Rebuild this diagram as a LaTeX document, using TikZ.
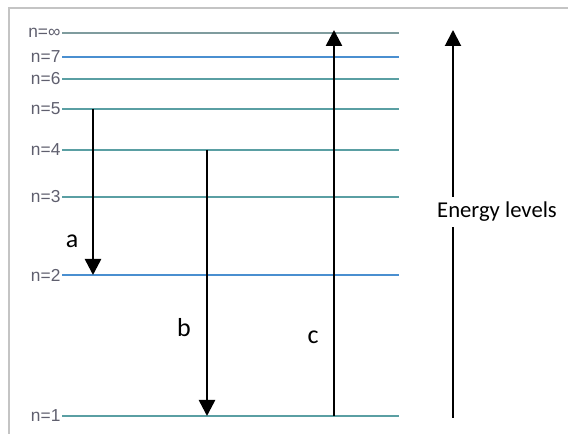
\documentclass[tikz,border=0pt]{standalone}
\usepackage{fontspec}
\setmainfont{Carlito}
\newfontfamily\lvfont{Liberation Sans}
\usetikzlibrary{arrows.meta}
\definecolor{lvteal}{HTML}{5a9fa3}
\definecolor{lvblue}{HTML}{4a8fd0}
\definecolor{lvgrey}{HTML}{7f9c9e}
\definecolor{labgrey}{HTML}{5f5f6e}
\definecolor{framegrey}{HTML}{c4c4c4}

\begin{document}
\begin{tikzpicture}[x=0.75pt,y=-0.75pt,
  lvline/.style={line width=1.9pt},
  lvlab/.style={anchor=east,inner sep=1pt,text=labgrey,font=\lvfont\fontsize{13}{15}\selectfont},
  jump/.style={line width=1.9pt,-{Triangle[length=12pt,width=12pt]}},
  tag/.style={font=\fontsize{17}{20}\selectfont},
  jumptag/.style={font=\fontsize{19.5}{22}\selectfont}]
\useasboundingbox (0,0) rectangle (568,434);
\draw[framegrey,line width=1.1pt] (9,434) -- (9,8) -- (568,8);
% energy levels
\foreach \lev/\y/\lab/\col in {1/416/1/lvteal,2/275/2/lvblue,3/197/3/lvteal,4/150/4/lvteal,
    5/109/5/lvteal,6/79/6/lvteal,7/57/7/lvblue,inf/33/∞/lvgrey}{
  \node[lvlab] (n\lev) at (62,\y) {n=\lab};
  \draw[lvline,\col] (n\lev.east) -- (399,\y) coordinate (e\lev);
}
% transitions
\coordinate (a5) at (93,109);  \coordinate (a2) at (93,275);
\coordinate (b4) at (207,150); \coordinate (b1) at (207,416);
\coordinate (c1) at (334,416); \coordinate (cinf) at (334,30);
\draw[jump] (a5) -- (a2);
\draw[jump] (b4) -- (b1);
\draw[jump] (c1) -- (cinf);
\node[jumptag] (ta) at (72,241) {a};
\node[jumptag] (tb) at (184,328) {b};
\node[jumptag] (tc) at (313,337) {c};
% energy axis
\node[tag,inner ysep=4pt] (elab) at (497,212) {Energy levels};
\coordinate (ebot) at (453,418); \coordinate (etop) at (453,30);
\draw[line width=1.5pt] (ebot) -- (elab.south -| ebot);
\draw[line width=1.5pt,-{Triangle[length=12pt,width=12pt]}] (elab.north -| ebot) -- (etop);
\end{tikzpicture}
\end{document}
